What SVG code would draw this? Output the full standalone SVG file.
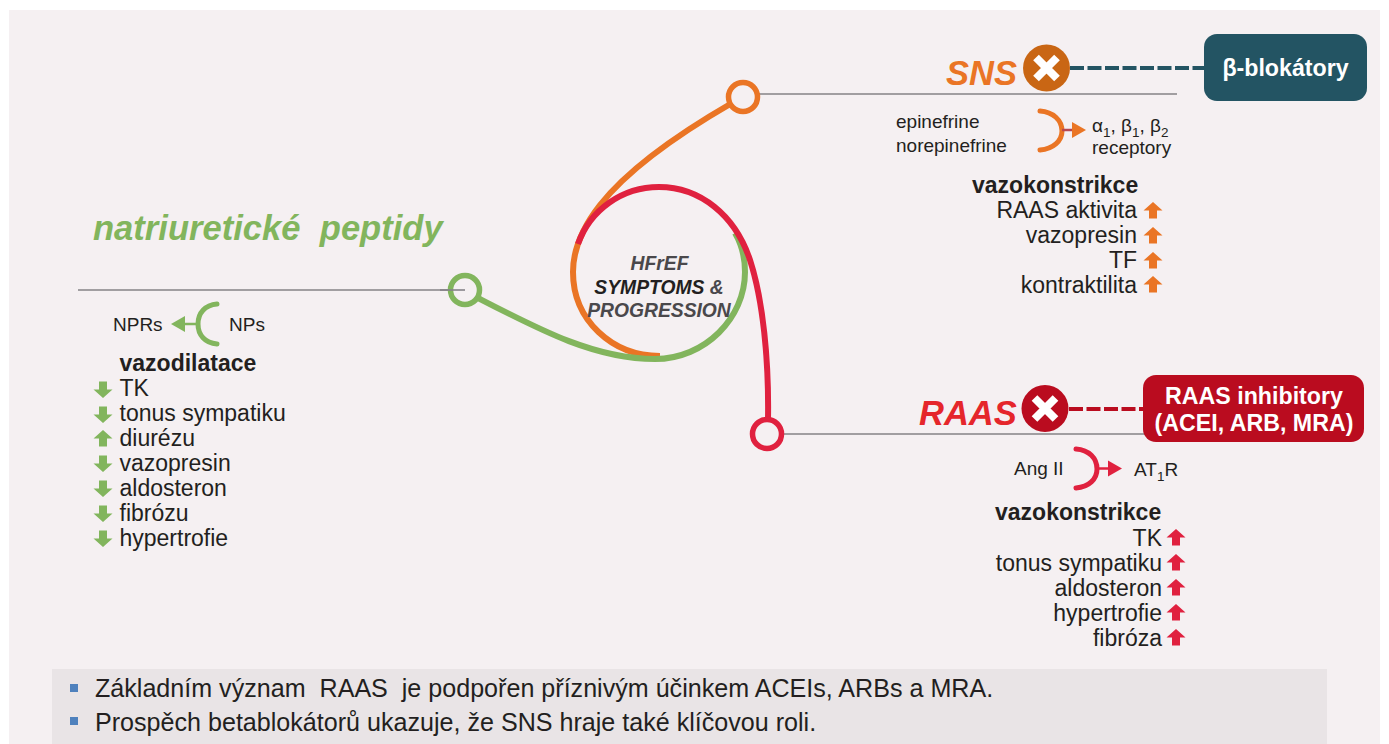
<svg xmlns="http://www.w3.org/2000/svg" width="1389" height="744" viewBox="0 0 1389 744">
<style>
text{font-family:"Liberation Sans",Arial,sans-serif;fill:#231f20}
.t{font-size:23px}.s{font-size:19px}.b{font-size:23px;font-weight:bold}
.e{text-anchor:end}
.w{fill:#fff;font-weight:bold;text-anchor:middle;font-size:23.2px}
.ln{stroke:#858287;stroke-width:1.6;fill:none}
.c{fill:none;stroke-width:6;stroke-linecap:butt}
.o{stroke:#ea7525}.g{stroke:#82b55d}.r{stroke:#e0213f}
.rg{fill:#f5f0f2;stroke-width:5.5}
.x{stroke:#fff;stroke-width:8;stroke-linecap:butt}
.h{font-style:italic;font-weight:bold;font-size:19.3px;text-anchor:middle;fill:#4a484b}
.n{font-size:25.1px}
</style>
<defs>
<path id="up" d="M0-9 9.500-0.500H4V7.500H-4V-0.500H-9.500Z"/>
<path id="down" d="M0 9 9.500 0.500H4V-7.500H-4V0.500H-9.500Z"/>
</defs>
<rect width="1389" height="744" fill="#fff"/>
<rect x="9" y="10" width="1371" height="734" fill="#f5f0f2"/>
<rect x="52" y="669" width="1275" height="75" fill="#e9e4e6"/>

<g id="connectors">
<path class="ln" d="M78 290H466M743 94H1177M767 434H1150"/>
<path class="c o" d="M732 103C680 133 630 167 600 205C582 228 573 250 573 272C573 320 612 356 660 356"/>
<path class="c g" d="M478 298C540 330 595 359 655 359C705 359 745 318 745 272C745 260 742 245 735 233"/>
<path class="c r" d="M578 244C590 210 622 187 659 187C700 187 735 215 750 260C763 300 769 360 768 420"/>
<path d="M1070 68H1204" fill="none" stroke="#235463" stroke-width="4" stroke-dasharray="14 3.500"/>
<path d="M1069 409H1150" fill="none" stroke="#ba0c1f" stroke-width="4" stroke-dasharray="14 3.500"/>
</g>

<g id="node-hfref">
<text class="h" x="659.500" y="270">HFrEF</text>
<text class="h" x="659" y="294"><tspan fill="#231f20">SYMPTOMS</tspan> &amp;</text>
<text class="h" x="659" y="317">PROGRESSION</text>
</g>

<g id="node-np">
<circle class="rg g" cx="465" cy="290" r="14.500"/>
<path class="ln" d="M440 290H465"/>
<text x="93" y="240" font-size="34.600" font-weight="bold" font-style="italic" style="fill:#82b55d" xml:space="preserve">natriuretické  peptidy</text>
<text class="s" x="113" y="331">NPRs</text>
<text class="s" x="229" y="331">NPs</text>
<path d="M217 304C205 305 198 313 198 324C198 335 205 343 217 344" fill="none" stroke="#82b55d" stroke-width="5" stroke-linecap="round"/>
<path d="M198 324H180" stroke="#82b55d" stroke-width="2.500"/>
<path d="M171 324 185 316V332Z" fill="#82b55d"/>
<text class="b" x="119.500" y="371">vazodilatace</text>
<g fill="#82b55d">
<use href="#down" x="103" y="389"/><use href="#down" x="103" y="414"/><use href="#up" x="103" y="439"/><use href="#down" x="103" y="463"/><use href="#down" x="103" y="488"/><use href="#down" x="103" y="513"/><use href="#down" x="103" y="538"/>
</g>
<text class="t" x="119.500" y="396">TK</text>
<text class="t" x="119.500" y="421">tonus sympatiku</text>
<text class="t" x="119.500" y="446">diurézu</text>
<text class="t" x="119.500" y="471">vazopresin</text>
<text class="t" x="119.500" y="496">aldosteron</text>
<text class="t" x="119.500" y="521">fibrózu</text>
<text class="t" x="119.500" y="546">hypertrofie</text>
</g>

<g id="node-sns">
<circle class="rg o" cx="743" cy="97" r="14.500"/>
<text x="946" y="85" font-size="34.500" font-weight="bold" font-style="italic" style="fill:#ea7525">SNS</text>
<circle cx="1046.500" cy="68" r="23.500" fill="#c96614"/>
<path class="x" d="M1036 57.500 1057 78.500M1057 57.500 1036 78.500"/>
<text class="s" x="896" y="128">epinefrine</text>
<text class="s" x="896" y="152">norepinefrine</text>
<path d="M1040 111C1053 112 1062 120 1062 131C1062 141 1053 149 1040 150" fill="none" stroke="#ea7525" stroke-width="5" stroke-linecap="round"/>
<path d="M1062 130H1074" stroke="#b8474f" stroke-width="2.500"/>
<path d="M1086 130 1072 122V138Z" fill="#ea7525"/>
<text class="s" x="1092" y="132">α<tspan font-size="13.500" dy="5">1</tspan><tspan dy="-5">, β</tspan><tspan font-size="13.500" dy="5">1</tspan><tspan dy="-5">, β</tspan><tspan font-size="13.500" dy="5">2</tspan></text>
<text class="s" x="1092" y="154">receptory</text>
<text class="b" x="972" y="193">vazokonstrikce</text>
<text class="t e" x="1137" y="218">RAAS aktivita</text>
<text class="t e" x="1137" y="243">vazopresin</text>
<text class="t e" x="1137" y="268">TF</text>
<text class="t e" x="1137" y="293">kontraktilita</text>
<g fill="#ea7525">
<use href="#up" x="1153" y="211"/><use href="#up" x="1153" y="236"/><use href="#up" x="1153" y="261"/><use href="#up" x="1153" y="285"/>
</g>
</g>

<g id="node-beta">
<rect x="1204" y="34" width="163" height="67" rx="13" fill="#235463"/>
<text class="w" x="1285.500" y="76">β-blokátory</text>
</g>

<g id="node-raas">
<circle class="rg r" cx="767" cy="434" r="14.500"/>
<text x="919" y="425" font-size="34.500" font-weight="bold" font-style="italic" style="fill:#e5262b">RAAS</text>
<circle cx="1045" cy="408.500" r="23.500" fill="#ba0c1f"/>
<path class="x" d="M1034.500 398 1055.500 419M1055.500 398 1034.500 419"/>
<text class="s" x="1014" y="475">Ang II</text>
<path d="M1076 449C1089 450 1097 458 1097 469C1097 479 1089 487 1076 488" fill="none" stroke="#e0213f" stroke-width="5" stroke-linecap="round"/>
<path d="M1097 468.500H1112" stroke="#e0213f" stroke-width="2.500"/>
<path d="M1122 468.500 1108 460.500V476.500Z" fill="#e0213f"/>
<text class="s" x="1134" y="476">AT<tspan font-size="13.500" dy="5">1</tspan><tspan dy="-5">R</tspan></text>
<text class="b" x="995" y="520">vazokonstrikce</text>
<text class="t e" x="1162" y="546">TK</text>
<text class="t e" x="1162" y="571">tonus sympatiku</text>
<text class="t e" x="1162" y="596">aldosteron</text>
<text class="t e" x="1162" y="621">hypertrofie</text>
<text class="t e" x="1162" y="646">fibróza</text>
<g fill="#e0213f">
<use href="#up" x="1176" y="538"/><use href="#up" x="1176" y="563"/><use href="#up" x="1176" y="588"/><use href="#up" x="1176" y="613"/><use href="#up" x="1176" y="638"/>
</g>
</g>

<g id="node-raasi">
<rect x="1143" y="375" width="221" height="67" rx="13" fill="#ba0c1f"/>
<text class="w" x="1254" y="404">RAAS inhibitory</text>
<text class="w" x="1254" y="431">(ACEI, ARB, MRA)</text>
</g>

<g id="note">
<rect x="70" y="684" width="8" height="8" fill="#4f81bd"/>
<rect x="70" y="717" width="8" height="8" fill="#4f81bd"/>
<text class="n" x="95" y="697" xml:space="preserve">Základním význam  RAAS  je podpořen příznivým účinkem ACEIs, ARBs a MRA.</text>
<text class="n" x="95" y="731">Prospěch betablokátorů ukazuje, že SNS hraje také klíčovou roli.</text>
</g>
</svg>
